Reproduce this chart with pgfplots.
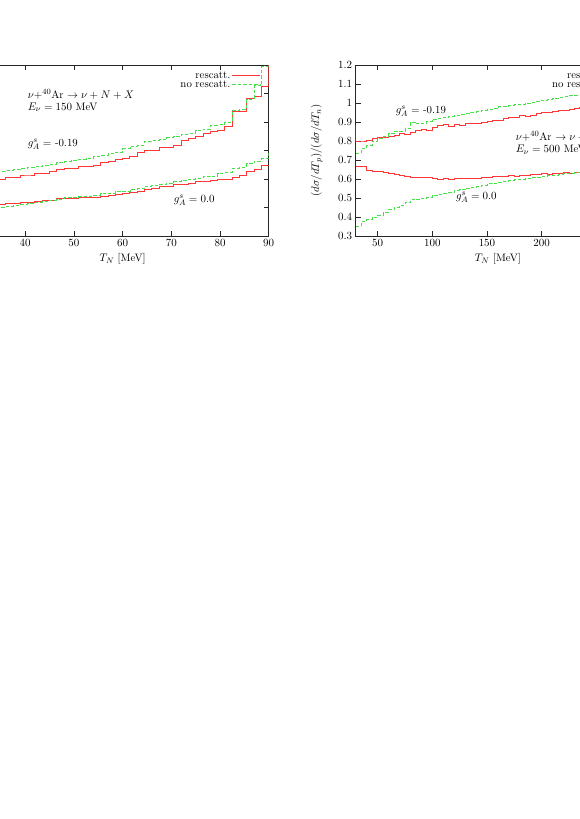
\documentclass[border=0pt]{standalone}
\usepackage{pgfplots}
\pgfplotsset{compat=1.18}
\definecolor{resc}{RGB}{255,55,55}
\definecolor{nores}{RGB}{70,225,70}

\pgfplotsset{
  panel/.style={
    scale only axis, height=171pt,
    font=\fontsize{10.8}{12.5}\selectfont,
    axis line style={black!85, line width=0.7pt},
    tick style={black!85, line width=0.7pt},
    major tick length=5pt,
    tick align=inside, xtick pos=both, ytick pos=both,
    xlabel={$T_N$ [MeV]},
    legend style={draw=none, fill=none, row sep=-2pt, inner sep=1pt,
      nodes={inner sep=1.5pt}},
    legend cell align=right, legend plot pos=right,
    legend image code/.code={\draw[##1] (0pt,0pt) -- (28pt,0pt);},
  },
  resc/.style={color=resc, line width=0.9pt, const plot mark left},
  nores/.style={color=nores, line width=0.8pt, dash pattern=on 3.5pt off 2pt, const plot mark left},
}

\begin{document}
\begin{tikzpicture}
\useasboundingbox (0,0) rectangle (580pt,-819pt);
\clip (0,0) rectangle (580pt,-819pt);

% left panel: E_nu = 150 MeV
\begin{axis}[panel, at={(-23.5pt,-65pt)}, anchor=north west, width=292.2pt,
  xmin=30, xmax=90, ymin=0.4, ymax=1.0,
  xtick={30,40,50,60,70,80,90}, ytick={0.4,0.5,0.6,0.7,0.8,0.9,1.0},
  legend style={at={(0.977,0.978)}, anchor=north east}]
\addplot[resc] coordinates {
(30,0.590)(31.5,0.592)(33,0.595)(34.5,0.597)(36,0.606)(37.5,0.606)(39,0.614)(40.5,0.614)
(42,0.620)(43.5,0.620)(45,0.626)(46.5,0.632)(48,0.637)(49.5,0.637)(51,0.643)(52.5,0.643)
(54,0.649)(55.5,0.657)(57,0.660)(58.5,0.667)(60,0.672)(61.5,0.678)(63,0.692)(64.5,0.699)
(66,0.699)(67.5,0.711)(69,0.711)(70.5,0.719)(72,0.737)(73.5,0.743)(75,0.751)(76.5,0.760)
(78,0.766)(79.5,0.772)(81,0.784)(82.5,0.836)(84,0.836)(85.5,0.883)(87,0.889)(88.5,0.924)
(90,1.05)};
\addlegendentry{rescatt.}
\addplot[nores] coordinates {
(30,0.620)(31.5,0.622)(33,0.624)(34.5,0.626)(36,0.630)(37.5,0.632)(39,0.636)(40.5,0.641)
(42,0.644)(43.5,0.649)(45,0.652)(46.5,0.658)(48,0.661)(49.5,0.666)(51,0.670)(52.5,0.674)
(54,0.681)(55.5,0.684)(57,0.690)(58.5,0.695)(60,0.706)(61.5,0.716)(63,0.719)(64.5,0.731)
(66,0.735)(67.5,0.739)(69,0.745)(70.5,0.749)(72,0.758)(73.5,0.760)(75,0.770)(76.5,0.775)
(78,0.789)(79.5,0.790)(81,0.800)(82.5,0.842)(84,0.845)(85.5,0.880)(87,0.927)(88.5,0.994)
(90,1.05)};
\addlegendentry{no rescatt.}
\addplot[resc, forget plot] coordinates {
(30,0.508)(31.5,0.509)(33,0.510)(34.5,0.511)(36,0.513)(37.5,0.515)(39,0.518)(40.5,0.518)
(42,0.520)(43.5,0.524)(45,0.524)(46.5,0.530)(48,0.530)(49.5,0.532)(51,0.534)(52.5,0.536)
(54,0.537)(55.5,0.540)(57,0.542)(58.5,0.547)(60,0.549)(61.5,0.552)(63,0.556)(64.5,0.564)
(66,0.566)(67.5,0.573)(69,0.575)(70.5,0.582)(72,0.582)(73.5,0.584)(75,0.591)(76.5,0.591)
(78,0.594)(79.5,0.599)(81,0.599)(82.5,0.606)(84,0.612)(85.5,0.628)(87,0.635)(88.5,0.649)
(90,0.649)};
\addplot[nores, forget plot] coordinates {
(30,0.490)(31.5,0.493)(33,0.497)(34.5,0.500)(36,0.503)(37.5,0.507)(39,0.511)(40.5,0.514)
(42,0.518)(43.5,0.521)(45,0.526)(46.5,0.529)(48,0.534)(49.5,0.536)(51,0.538)(52.5,0.540)
(54,0.544)(55.5,0.548)(57,0.550)(58.5,0.555)(60,0.558)(61.5,0.564)(63,0.567)(64.5,0.575)
(66,0.578)(67.5,0.582)(69,0.586)(70.5,0.591)(72,0.594)(73.5,0.599)(75,0.602)(76.5,0.608)
(78,0.610)(79.5,0.620)(81,0.622)(82.5,0.637)(84,0.640)(85.5,0.653)(87,0.663)(88.5,0.672)
(90,0.696)};
\node[anchor=west] at (axis cs:39.8,0.897) {$\nu$+$^{40}$Ar $\rightarrow \nu + N + X$};
\node[anchor=west] at (axis cs:39.8,0.852) {$E_\nu = 150$ MeV};
\node[anchor=west] at (axis cs:39.8,0.722) {$g_A^s =$ -0.19};
\node[anchor=west] at (axis cs:69.8,0.524) {$g_A^s = 0.0$};
\end{axis}

% right panel: E_nu = 500 MeV
\begin{axis}[panel, at={(355.7pt,-65pt)}, anchor=north west, width=284.4pt,
  xmin=30, xmax=290, ymin=0.3, ymax=1.2,
  xtick={50,100,150,200,250}, ytick={0.3,0.4,0.5,0.6,0.7,0.8,0.9,1,1.1,1.2},
  ylabel={$(d\sigma/dT_p)/(d\sigma/dT_n)$},
  ylabel style={at={(axis description cs:-0.137,0.5)}, anchor=center},
  legend style={at={(0.977,0.978)}, anchor=north east}]
\addplot[resc] coordinates {
(25,0.88)(30,0.800)(35,0.800)(40,0.805)(45,0.815)(50,0.818)(55,0.820)(60,0.823)(65,0.830)
(70,0.840)(75,0.832)(80,0.845)(85,0.853)(90,0.860)(95,0.855)(100,0.870)(105,0.880)
(110,0.885)(115,0.878)(120,0.886)(125,0.880)(130,0.890)(135,0.893)(140,0.890)(145,0.898)
(150,0.903)(155,0.908)(160,0.910)(165,0.918)(170,0.925)(175,0.922)(180,0.932)(185,0.930)
(190,0.935)(195,0.943)(200,0.948)(205,0.950)(210,0.955)(215,0.960)(220,0.962)(225,0.968)
(230,0.972)(235,0.975)(240,0.978)(245,0.980)(250,0.983)(255,0.985)(260,0.988)(265,0.990)
(270,0.993)(275,0.995)(280,0.998)(285,1.000)(290,1.000)};
\addlegendentry{rescatt.}
\addplot[nores] coordinates {
(30,0.735)(35,0.760)(40,0.775)(45,0.800)(50,0.815)(55,0.823)(60,0.840)(65,0.850)
(70,0.853)(75,0.865)(80,0.900)(85,0.890)(90,0.895)(95,0.905)(100,0.915)(105,0.920)
(110,0.925)(115,0.930)(120,0.937)(125,0.940)(130,0.945)(135,0.950)(140,0.955)(145,0.960)
(150,0.965)(155,0.970)(160,0.980)(165,0.980)(170,0.985)(175,0.990)(180,0.995)(185,1.000)
(190,1.005)(195,1.010)(200,1.015)(205,1.020)(210,1.025)(215,1.030)(220,1.033)(225,1.038)
(230,1.042)(235,1.047)(240,1.050)(245,1.053)(250,1.056)(255,1.060)(260,1.063)(265,1.066)
(270,1.070)(275,1.072)(280,1.075)(285,1.078)(290,1.078)};
\addlegendentry{no rescatt.}
\addplot[resc, forget plot] coordinates {
(30,0.665)(35,0.665)(40,0.645)(45,0.642)(50,0.638)(55,0.635)(60,0.628)(65,0.622)
(70,0.618)(75,0.612)(80,0.610)(85,0.610)(90,0.607)(95,0.610)(100,0.605)(105,0.600)
(110,0.602)(115,0.600)(120,0.603)(125,0.602)(130,0.603)(135,0.605)(140,0.605)(145,0.608)
(150,0.610)(155,0.612)(160,0.612)(165,0.615)(170,0.618)(175,0.616)(180,0.620)(185,0.620)
(190,0.622)(195,0.625)(200,0.628)(205,0.625)(210,0.630)(215,0.628)(220,0.632)(225,0.630)
(230,0.635)(235,0.633)(240,0.636)(245,0.637)(250,0.638)(255,0.639)(260,0.640)(265,0.641)
(270,0.642)(275,0.643)(280,0.644)(285,0.645)(290,0.645)};
\addplot[nores, forget plot] coordinates {
(30,0.350)(35,0.375)(40,0.385)(45,0.400)(50,0.410)(55,0.425)(60,0.440)(65,0.450)
(70,0.460)(75,0.475)(80,0.490)(85,0.495)(90,0.500)(95,0.505)(100,0.515)(105,0.520)
(110,0.525)(115,0.530)(120,0.538)(125,0.543)(130,0.550)(135,0.555)(140,0.560)(145,0.565)
(150,0.575)(155,0.578)(160,0.583)(165,0.588)(170,0.595)(175,0.598)(180,0.600)(185,0.603)
(190,0.607)(195,0.610)(200,0.615)(205,0.618)(210,0.620)(215,0.625)(220,0.628)(225,0.630)
(230,0.633)(235,0.636)(240,0.640)(245,0.642)(250,0.645)(255,0.647)(260,0.650)(265,0.652)
(270,0.654)(275,0.656)(280,0.658)(285,0.660)(290,0.660)};
\node[anchor=west] at (axis cs:63.5,0.958) {$g_A^s =$ -0.19};
\node[anchor=west] at (axis cs:173.2,0.823) {$\nu$+$^{40}$Ar $\rightarrow \nu + N + X$};
\node[anchor=west] at (axis cs:173.2,0.753) {$E_\nu = 500$ MeV};
\node[anchor=west] at (axis cs:118.5,0.502) {$g_A^s = 0.0$};
\end{axis}
\end{tikzpicture}
\end{document}
